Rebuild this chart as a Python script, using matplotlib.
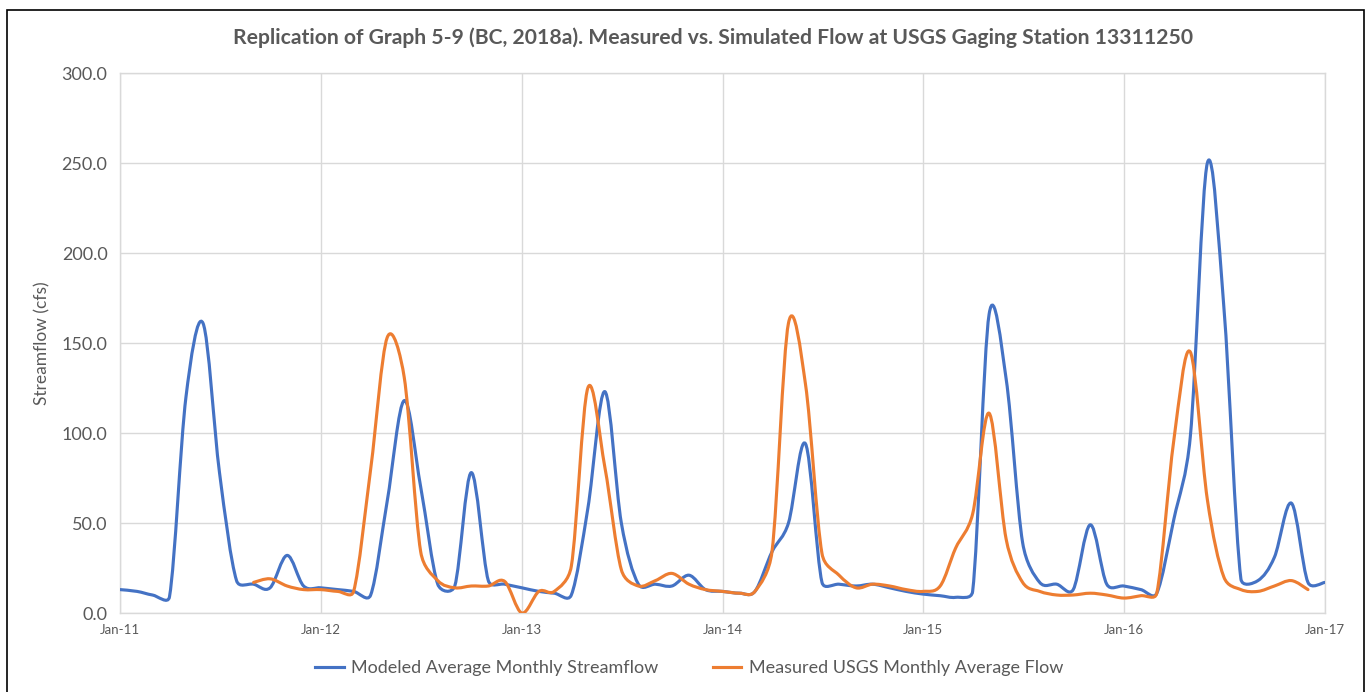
"""
Replication of Graph 5-9: measured vs simulated monthly flow at USGS 13311250.
Excel-style smoothed lines are drawn as cubic Bezier paths through the monthly values.
"""

import matplotlib
matplotlib.use("Agg")
import matplotlib.dates as mdates
import matplotlib.pyplot as plt
import numpy as np
import pandas as pd
from matplotlib.lines import Line2D
from matplotlib.patches import PathPatch, Rectangle
from matplotlib.path import Path

TITLE = ("Replication of Graph 5-9 (BC, 2018a). Measured vs. Simulated Flow "
         "at USGS Gaging Station 13311250")
MODELED_LABEL = "Modeled Average Monthly Streamflow"
MEASURED_LABEL = "Measured USGS Monthly Average Flow"

# Monthly values, Jan-11 .. Jan-17
MODELED_START = "2011-01-01"
MODELED = [
    13, 12, 10, 9, 120, 161, 78, 18, 16, 14, 32, 15,        # 2011
    14, 13, 12, 10, 62, 118, 70, 16, 15, 78, 18, 16,        # 2012
    14, 12, 11, 10, 58, 123, 50, 16, 16, 15, 21, 13,        # 2013
    12, 11, 12, 34, 50, 94, 17, 16, 15, 16, 14, 12,         # 2014
    10.5, 9.6, 8.7, 12, 166, 130, 39, 17, 16, 13, 49, 16,   # 2015
    15, 13, 11, 52, 98, 250, 170, 19, 18, 31, 61, 17,       # 2016
    17,                                                     # 2017
]

# Monthly values, Sep-11 .. Dec-16
MEASURED_START = "2011-09-01"
MEASURED = [
    17, 19, 15, 13,                                          # 2011
    13, 12, 12, 80, 153, 131, 34, 18, 14, 15, 15, 17.5,      # 2012
    0, 12, 12, 26, 125, 81, 24, 15, 18, 22, 16, 13,          # 2013
    12, 11, 12, 34, 161, 127, 33, 21, 14, 16, 15, 13,        # 2014
    12, 15, 36, 55, 111, 41, 17, 12, 10, 10, 11, 10,         # 2015
    8.3, 9.6, 11, 96, 145, 63, 20, 13, 12, 15, 18, 13,       # 2016
]

Y_TICKS = [0, 50, 100, 150, 200, 250, 300]
X_RANGE = ("2011-01-01", "2017-01-01")

BLUE = "#4472C4"
ORANGE = "#ED7D31"
GRID = "#D9D9D9"
TEXT = "#595959"
FONT = "Lato"


def smooth_path(ax, x, y):
    """Excel-like smoothed line: Catmull-Rom Bezier, control arms capped at
    half the segment length (measured on screen), returned in data coords."""
    pts = ax.transData.transform(np.column_stack([x, y]))
    n = len(pts)
    verts = [pts[0]]
    codes = [Path.MOVETO]
    for i in range(n - 1):
        p0 = pts[i - 1] if i > 0 else pts[i]
        p1, p2 = pts[i], pts[i + 1]
        p3 = pts[i + 2] if i + 2 < n else pts[i + 1]
        seg = np.hypot(*(p2 - p1))
        t1 = (p2 - p0) / 6.0
        t2 = (p3 - p1) / 6.0
        for t in (t1, t2):
            norm = np.hypot(*t)
            if norm > seg / 2 and norm > 0:
                t *= (seg / 2) / norm
        verts += [p1 + t1, p2 - t2, p2]
        codes += [Path.CURVE4] * 3
    verts = ax.transData.inverted().transform(np.array(verts))
    return Path(verts, codes)


def main():
    plt.rcParams["font.family"] = [FONT, "DejaVu Sans"]

    fig = plt.figure(figsize=(13.72, 6.92), dpi=100)
    ax = fig.add_axes([120 / 1372, 1 - 613 / 692, 1205 / 1372, 540 / 692])

    ax.set_xlim(mdates.datestr2num(X_RANGE[0]), mdates.datestr2num(X_RANGE[1]))
    ax.set_ylim(0, 300)

    modeled_x = mdates.date2num(pd.date_range(MODELED_START, periods=len(MODELED), freq="MS"))
    measured_x = mdates.date2num(pd.date_range(MEASURED_START, periods=len(MEASURED), freq="MS"))

    for xs, ys, color in [(modeled_x, MODELED, BLUE), (measured_x, MEASURED, ORANGE)]:
        patch = PathPatch(smooth_path(ax, xs, np.asarray(ys, float)), fill=False,
                          edgecolor=color, linewidth=2.25,
                          capstyle="round", joinstyle="round", zorder=3)
        ax.add_patch(patch)

    ax.set_yticks(Y_TICKS)
    ax.yaxis.set_major_formatter(plt.FormatStrFormatter("%.1f"))
    ax.xaxis.set_major_locator(mdates.YearLocator())
    ax.xaxis.set_major_formatter(mdates.DateFormatter("%b-%y"))

    ax.grid(True, color=GRID, linewidth=1.0)
    ax.set_axisbelow(True)
    for side in ax.spines.values():
        side.set_color(GRID)
        side.set_linewidth(1.0)
    ax.tick_params(axis="both", length=0, colors=TEXT)
    ax.tick_params(axis="y", labelsize=13, pad=9)
    ax.tick_params(axis="x", labelsize=9.5, pad=8)

    ax.set_ylabel("Streamflow (cfs)", fontsize=12.5, color=TEXT, labelpad=8)
    fig.text(713 / 1372, 1 - 38 / 692, TITLE, ha="center", va="center",
             fontsize=15.2, fontweight="bold", color=TEXT)

    handles = [Line2D([], [], color=BLUE, linewidth=2.25),
               Line2D([], [], color=ORANGE, linewidth=2.25)]
    fig.legend(handles, [MODELED_LABEL, MEASURED_LABEL], loc="center",
               bbox_to_anchor=(689 / 1372, 1 - 668 / 692), ncol=2, frameon=False,
               fontsize=13, handlelength=1.6, handletextpad=0.4,
               columnspacing=3.0, labelcolor=TEXT)

    # outer chart frame
    fig.patches.append(Rectangle((7 / 1372, -0.02), 1357 / 1372, 1.02 - 10 / 692,
                                 transform=fig.transFigure, fill=False,
                                 edgecolor="black", linewidth=1.2))

    fig.savefig("out.png", dpi=100)
    plt.close(fig)


if __name__ == "__main__":
    main()
